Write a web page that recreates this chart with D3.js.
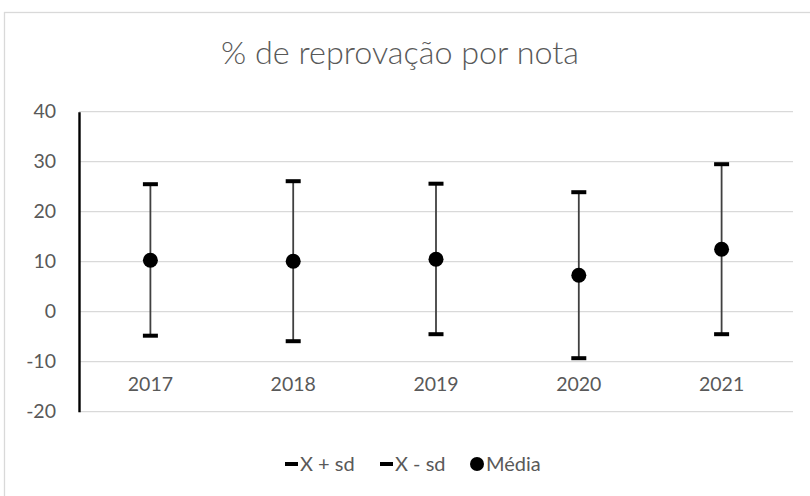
<!DOCTYPE html>
<html>
<head>
<meta charset="utf-8">
<script src="https://cdn.jsdelivr.net/npm/d3@7"></script>
<style>
  body { margin: 0; background: #fff; }
  text { font-family: Lato, "Open Sans", sans-serif; fill: #595959; }
</style>
</head>
<body>
<svg id="chart" width="810" height="496"></svg>
<script>
// data
var years = ["2017", "2018", "2019", "2020", "2021"];
var upper = [25.5, 26.1, 25.6, 23.9, 29.5];   // X + sd
var lower = [-4.8, -5.9, -4.5, -9.3, -4.5];   // X - sd
var media = [10.3, 10.1, 10.5, 7.3, 12.5];    // Média
var yTicks = [-20, -10, 0, 10, 20, 30, 40];
var legendNames = ["X + sd", "X - sd", "Média"];

var svg = d3.select("#chart");
var plot = {left: 79, right: 793, top: 111.7, bottom: 411.7};

// chart area border
svg.append("rect")
    .attr("x", 4.5).attr("y", 12.5)
    .attr("width", 900).attr("height", 600)
    .attr("fill", "#fff")
    .attr("stroke", "#d9d9d9").attr("stroke-width", 1.3);

var x = d3.scaleBand().domain(years).range([plot.left, plot.right]);
var y = d3.scaleLinear().domain([-20, 40]).range([plot.bottom, plot.top]);

// title, fitted to the reference width
var title = svg.append("text")
    .attr("x", 400).attr("y", 64)
    .attr("text-anchor", "middle")
    .style("font-size", "30px")
    .style("font-weight", 300)
    .text("% de reprovação por nota");
var tw = title.node().getComputedTextLength();
title.style("font-size", (30 * 358 / tw) + "px");

// gridlines
svg.append("g").selectAll("line")
    .data(yTicks)
    .enter().append("line")
    .attr("x1", plot.left).attr("x2", plot.right)
    .attr("y1", function(d){ return y(d); })
    .attr("y2", function(d){ return y(d); })
    .attr("stroke", "#d9d9d9").attr("stroke-width", 1.3);

// y axis
var yAxis = d3.axisLeft(y).tickValues(yTicks).tickSize(0).tickPadding(23)
    .tickFormat(function(d){ return String(d); });
var gy = svg.append("g")
    .attr("transform", "translate(" + plot.left + ",0)")
    .call(yAxis);
gy.select(".domain").attr("stroke", "#000").attr("stroke-width", 2.4);
gy.selectAll("text").style("font-size", "19.5px").attr("fill", "#595959");

// x labels (axis line hidden)
var xAxis = d3.axisBottom(x).tickSize(0).tickPadding(0);
var gx = svg.append("g")
    .attr("transform", "translate(0," + y(-14.4) + ")")
    .call(xAxis);
gx.select(".domain").remove();
gx.selectAll("text").style("font-size", "19.5px").attr("fill", "#595959")
    .attr("dy", "0.35em").attr("y", 0);

var rows = years.map(function(yr, i){
    return {year: yr, hi: upper[i], lo: lower[i], m: media[i]};
});
var cx = function(d){ return x(d.year) + x.bandwidth() / 2; };

// high-low lines
svg.append("g").selectAll("line")
    .data(rows)
    .enter().append("line")
    .attr("x1", cx).attr("x2", cx)
    .attr("y1", function(d){ return y(d.hi); })
    .attr("y2", function(d){ return y(d.lo); })
    .attr("stroke", "#404040").attr("stroke-width", 1.8);

// cap markers
var capW = 15, capH = 4;
["hi", "lo"].forEach(function(k){
    svg.append("g").selectAll("rect")
        .data(rows)
        .enter().append("rect")
        .attr("x", function(d){ return cx(d) - capW / 2; })
        .attr("y", function(d){ return y(d[k]) - capH / 2; })
        .attr("width", capW).attr("height", capH)
        .attr("fill", "#000");
});

// mean markers
svg.append("g").selectAll("circle")
    .data(rows)
    .enter().append("circle")
    .attr("cx", cx)
    .attr("cy", function(d){ return y(d.m); })
    .attr("r", 7.5)
    .attr("fill", "#000");

// legend
var leg = svg.append("g").attr("transform", "translate(0,464)");
var legX = [285, 380, 470];
legendNames.forEach(function(name, i){
    var g = leg.append("g").attr("transform", "translate(" + legX[i] + ",0)");
    if (i < 2) {
        g.append("rect").attr("x", 0).attr("y", -2).attr("width", 13).attr("height", 4).attr("fill", "#000");
        g.append("text").attr("x", 15).attr("dy", "0.35em").style("font-size", "20px").text(name);
    } else {
        g.append("circle").attr("cx", 7).attr("cy", 0).attr("r", 7).attr("fill", "#000");
        g.append("text").attr("x", 16).attr("dy", "0.35em").style("font-size", "20px").text(name);
    }
});
</script>
</body>
</html>
